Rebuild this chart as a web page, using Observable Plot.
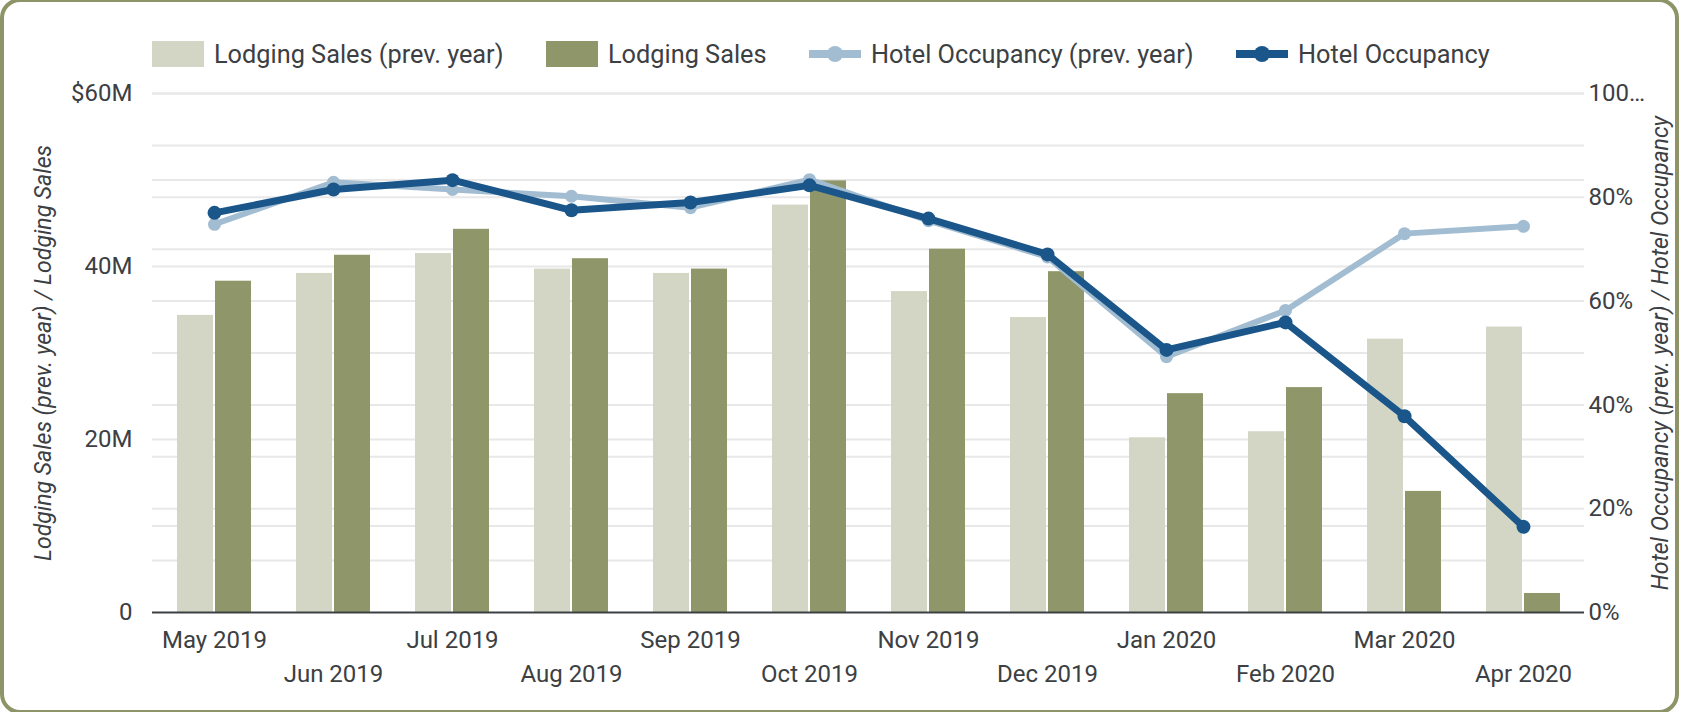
<!DOCTYPE html>
<html>
<head>
<meta charset="utf-8">
<script src="https://cdn.jsdelivr.net/npm/d3@7"></script>
<script src="https://cdn.jsdelivr.net/npm/@observablehq/plot@0.6"></script>
<style>
  html, body { margin: 0; padding: 0; background: #ffffff; width: 1685px; height: 712px; overflow: hidden; font-family: Roboto, "Noto Sans", sans-serif; }
  #card { position: absolute; left: 0; top: -2px; width: 1679px; height: 716px; box-sizing: border-box; border: 4px solid #8e9468; border-radius: 20px; background: #fff; }
  #legend { position: absolute; left: 152px; top: 41px; height: 26px; display: flex; align-items: center; gap: 42.5px; font-size: 25.3px; color: #3c4043; white-space: nowrap; }
  .item { display: flex; align-items: center; gap: 10px; }
  .sw { width: 52px; height: 26px; }
  .ln { width: 52px; height: 26px; position: relative; }
  .ln .bar { position: absolute; left: 0; right: 0; top: 9px; height: 8px; }
  .ln .dot { position: absolute; left: 18px; top: 5px; width: 16px; height: 16px; border-radius: 50%; }
  #chart { position: absolute; left: 0; top: 75px; }
</style>
</head>
<body>
<div id="card"></div>
<div id="legend"></div>
<div id="chart"></div>
<script>
const months = ["May 2019", "Jun 2019", "Jul 2019", "Aug 2019", "Sep 2019", "Oct 2019", "Nov 2019", "Dec 2019", "Jan 2020", "Feb 2020", "Mar 2020", "Apr 2020"];
// Lodging sales, millions of dollars
const salesPrev = [34.35, 39.2, 41.5, 39.7, 39.2, 47.1, 37.1, 34.1, 20.2, 20.9, 31.6, 33.0];
const salesCur  = [38.3, 41.3, 44.3, 40.9, 39.7, 49.9, 42.0, 39.4, 25.3, 26.0, 14.0, 2.2];
// Hotel occupancy, percent
const occPrev = [74.8, 82.9, 81.5, 80.2, 78.0, 83.4, 75.5, 68.5, 49.3, 58.2, 73.0, 74.4];
const occCur  = [77.0, 81.5, 83.3, 77.5, 79.0, 82.3, 75.9, 69.0, 50.6, 55.9, 37.8, 16.5];

const seriesNames = ["Lodging Sales (prev. year)", "Lodging Sales", "Hotel Occupancy (prev. year)", "Hotel Occupancy"];
const seriesColors = ["#d3d6c5", "#8f9669", "#a2bdd2", "#1a5689"];

const leftTicks = [0, 20, 40, 60];
const leftTickLabels = ["0", "20M", "40M", "$60M"];
const leftGrid = [10, 20, 30, 40, 50, 60];
const rightTicks = [0, 20, 40, 60, 80, 100];
const rightTickLabels = ["0%", "20%", "40%", "60%", "80%", "100…"];
const rightGrid = [10, 20, 30, 40, 50, 60, 70, 80, 90, 100];
const leftTitle = "Lodging Sales (prev. year) / Lodging Sales";
const rightTitle = "Hotel Occupancy (prev. year) / Hotel Occupancy";

// percent -> left-axis units (100% maps to $60M)
const pctScale = 60 / 100;

const rows = months.map((m, i) => ({month: m, salesPrev: salesPrev[i], salesCur: salesCur[i], occPrev: occPrev[i] * pctScale, occCur: occCur[i] * pctScale}));
const evenMonths = months.filter((d, i) => i % 2 === 0);
const oddMonths = months.filter((d, i) => i % 2 === 1);
const leftLabel = new Map(leftTicks.map((t, i) => [t, leftTickLabels[i]]));
const rightLabel = new Map(rightTicks.map((t, i) => [Math.round(t * pctScale * 1000), rightTickLabels[i]]));

// legend
const legend = document.getElementById("legend");
seriesNames.forEach((name, i) => {
  const item = document.createElement("div");
  item.className = "item";
  if (i < 2) {
    item.innerHTML = `<div class="sw" style="background:${seriesColors[i]}"></div><span>${name}</span>`;
  } else {
    item.innerHTML = `<div class="ln"><div class="bar" style="background:${seriesColors[i]}"></div><div class="dot" style="background:${seriesColors[i]}"></div></div><span>${name}</span>`;
  }
  legend.appendChild(item);
});

const gridColor = "#e8e8e8";
const chart = Plot.plot({
  width: 1685,
  height: 627,
  marginLeft: 152,
  marginRight: 101,
  marginTop: 18,
  marginBottom: 90,
  style: {fontFamily: "Roboto, sans-serif", color: "#3c4043", background: "transparent", overflow: "visible"},
  x: {type: "band", domain: months, paddingInner: 0.38, paddingOuter: 0.19},
  y: {domain: [0, 60]},
  marks: [
    Plot.ruleY(rightGrid.map(p => p * pctScale), {stroke: gridColor, strokeWidth: 2}),
    Plot.ruleY(leftGrid, {stroke: gridColor, strokeWidth: 2}),
    Plot.barY(rows, {x: "month", y: "salesPrev", fill: seriesColors[0], insetRight: 38}),
    Plot.barY(rows, {x: "month", y: "salesCur", fill: seriesColors[1], insetLeft: 38}),
    Plot.ruleY([0], {stroke: "#3c4043", strokeWidth: 2}),
    Plot.line(rows, {x: "month", y: "occPrev", stroke: seriesColors[2], strokeWidth: 6}),
    Plot.dot(rows, {x: "month", y: "occPrev", r: 6.5, fill: seriesColors[2]}),
    Plot.line(rows, {x: "month", y: "occCur", stroke: seriesColors[3], strokeWidth: 7}),
    Plot.dot(rows, {x: "month", y: "occCur", r: 7, fill: seriesColors[3]}),
    Plot.axisX(evenMonths, {tickSize: 0, tickPadding: 18, fontSize: 24, label: null}),
    Plot.axisX(oddMonths, {tickSize: 0, tickPadding: 52, fontSize: 24, label: null}),
    Plot.axisY(leftTicks, {anchor: "left", tickSize: 0, tickPadding: 20, fontSize: 24, label: null, tickFormat: d => leftLabel.get(d)}),
    Plot.axisY(rightTicks.map(p => p * pctScale), {anchor: "right", tickSize: 0, tickPadding: 4, fontSize: 24, label: null, tickFormat: d => rightLabel.get(Math.round(d * 1000))}),
    Plot.text([leftTitle], {text: d => d, frameAnchor: "left", textAnchor: "middle", lineAnchor: "middle", rotate: -90, dx: -109, fontSize: 23, fontStyle: "italic", fill: "#3c4043"}),
    Plot.text([rightTitle], {text: d => d, frameAnchor: "right", textAnchor: "middle", lineAnchor: "middle", rotate: -90, dx: 76, fontSize: 23, fontStyle: "italic", fill: "#3c4043"})
  ]
});
document.getElementById("chart").appendChild(chart);
</script>
</body>
</html>
